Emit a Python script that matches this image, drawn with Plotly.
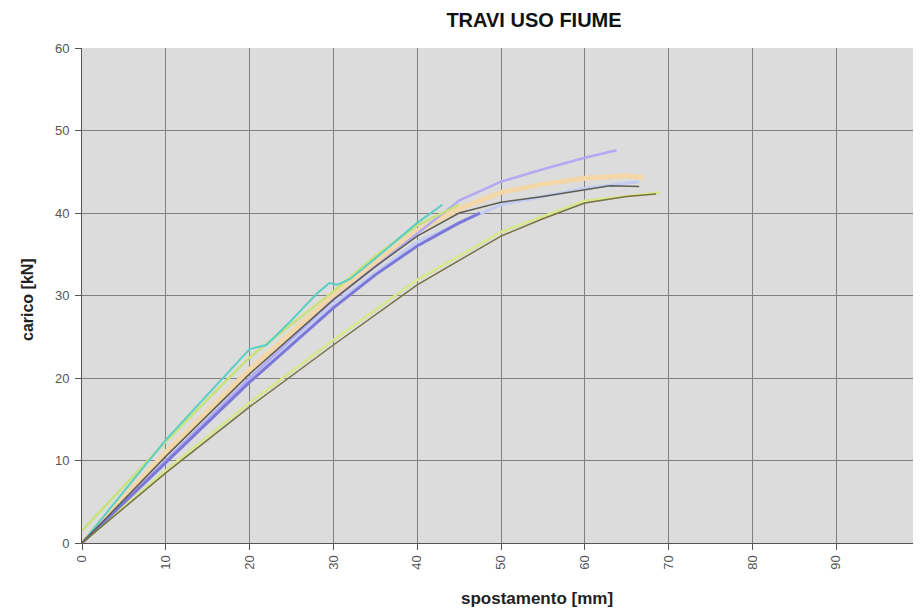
import plotly.graph_objects as go

# Data (spostamento [mm], carico [kN])
cyan_x = [0, 5, 10, 15, 20, 22, 25, 28, 29.5, 30.5, 32, 35, 40, 43]
cyan_y = [0, 6.3, 12.5, 18, 23.5, 24, 27, 30.2, 31.5, 31.3, 32, 34.5, 38.8, 41]

green_x = [0, 10, 20, 30, 35, 40, 45]
green_y = [1.5, 12.3, 22.5, 30.5, 34.8, 38.5, 41]

peach_x = [0, 10, 20, 30, 35, 40, 45, 50, 55, 60, 65, 67]
peach_y = [0, 11, 21, 30, 34, 37.8, 40.5, 42.5, 43.5, 44.2, 44.5, 44.3]

lav_x = [0, 10, 20, 30, 40, 45, 50, 55, 60, 63.8]
lav_y = [0, 10, 20, 29.5, 37.5, 41.5, 43.8, 45.3, 46.7, 47.6]

lblue_x = [0, 10, 20, 30, 40, 50, 60, 66.5]
lblue_y = [0, 10, 19.8, 29, 36.5, 41, 43, 43.8]

purple_x = [0, 10, 20, 30, 35, 40, 45, 47.5]
purple_y = [0, 9.8, 19.5, 28.5, 32.5, 36, 38.8, 40]

dark1_x = [0, 10, 20, 30, 35, 40, 45, 50, 55, 60, 63, 66.5]
dark1_y = [0, 10.5, 20.5, 29.5, 33.5, 37.2, 40, 41.3, 42, 42.8, 43.3, 43.2]

green2_x = [0, 10, 20, 30, 40, 50, 60, 69]
green2_y = [0, 8.8, 17, 24.6, 31.9, 37.7, 41.5, 42.5]

dark2_x = [0, 10, 20, 30, 40, 50, 55, 60, 65, 68.5]
dark2_y = [0, 8.5, 16.5, 24, 31.3, 37.2, 39.3, 41.2, 42, 42.3]

x_ticks = [0, 10, 20, 30, 40, 50, 60, 70, 80, 90, 100]
y_ticks = [0, 10, 20, 30, 40, 50, 60]

series = [
    (peach_x, peach_y, "#F3D7A8", 5),
    (lblue_x, lblue_y, "#C4CCF2", 3),
    (lav_x, lav_y, "#B2AAF2", 2.5),
    (green2_x, green2_y, "#D6E88A", 2.5),
    (green_x, green_y, "#C8E27A", 2.5),
    (cyan_x, cyan_y, "#5CCFC4", 2),
    (purple_x, purple_y, "#7C78D8", 3),
    (dark1_x, dark1_y, "#5E5E52", 1.5),
    (dark2_x, dark2_y, "#767244", 1.5),
]

fig = go.Figure()
for xs, ys, col, w in series:
    fig.add_trace(go.Scatter(x=xs, y=ys, mode="lines",
                             line=dict(color=col, width=w), showlegend=False))

# page body offsets the figure by 8px; figure is sized to fill the window
OFF = 8
W, H = 921 - OFF, 612 - OFF
L, T = 82 - OFF, 48 - OFF
R = W - (920 - OFF)
B = H - (543 - OFF)
pw, ph = W - L - R, H - T - B

def px_x(px):
    return (px - OFF - L) / pw

def px_y(py):
    return (T + ph - (py - OFF)) / ph

fig.update_layout(
    width=W, height=H,
    paper_bgcolor="white", plot_bgcolor="#DCDCDC",
    margin=dict(l=L, r=R, t=T, b=B, autoexpand=False),
    font=dict(family="Liberation Sans, Arial, sans-serif", color="#333333"),
    title=dict(text="<b>TRAVI USO FIUME</b>", x=(534 - OFF) / W, xref="container", xanchor="center",
               y=1 - (20 - OFF) / H, yref="container", yanchor="middle",
               font=dict(size=20, color="#111111")),
    annotations=[
        dict(text="<b>spostamento [mm]</b>", xref="paper", yref="paper",
             x=px_x(537), y=px_y(598), xanchor="center", yanchor="middle",
             showarrow=False, font=dict(size=17, color="#222222")),
        dict(text="<b>carico [kN]</b>", xref="paper", yref="paper", textangle=-90,
             x=px_x(27), y=px_y(300), xanchor="center", yanchor="middle",
             showarrow=False, font=dict(size=16, color="#222222")),
        # last x tick label, partly cut by the right edge as in the reference
        dict(text=str(x_ticks[-1]), xref="x", yref="paper", textangle=-90,
             x=x_ticks[-1], y=px_y(551), xanchor="center", yanchor="top",
             showarrow=False, font=dict(size=13, color="#555555")),
    ],
)
fig.update_xaxes(range=[0, 100], tickvals=x_ticks[:-1], ticktext=[str(v) for v in x_ticks[:-1]],
                 tickangle=-90, tickfont=dict(size=13, color="#555555"), automargin=False,
                 showgrid=True, gridcolor="#808080", gridwidth=1,
                 showline=True, linecolor="#555555", linewidth=1,
                 ticks="outside", ticklen=6, tickcolor="#555555",
                 zeroline=False)
fig.update_yaxes(range=[0, 60], tickvals=y_ticks, automargin=False,
                 tickfont=dict(size=13, color="#555555"),
                 showgrid=True, gridcolor="#808080", gridwidth=1,
                 showline=True, linecolor="#555555", linewidth=1,
                 ticks="outside", ticklen=6, tickcolor="#555555",
                 ticklabelstandoff=3,
                 zeroline=False)

fig.write_html("out.html")
